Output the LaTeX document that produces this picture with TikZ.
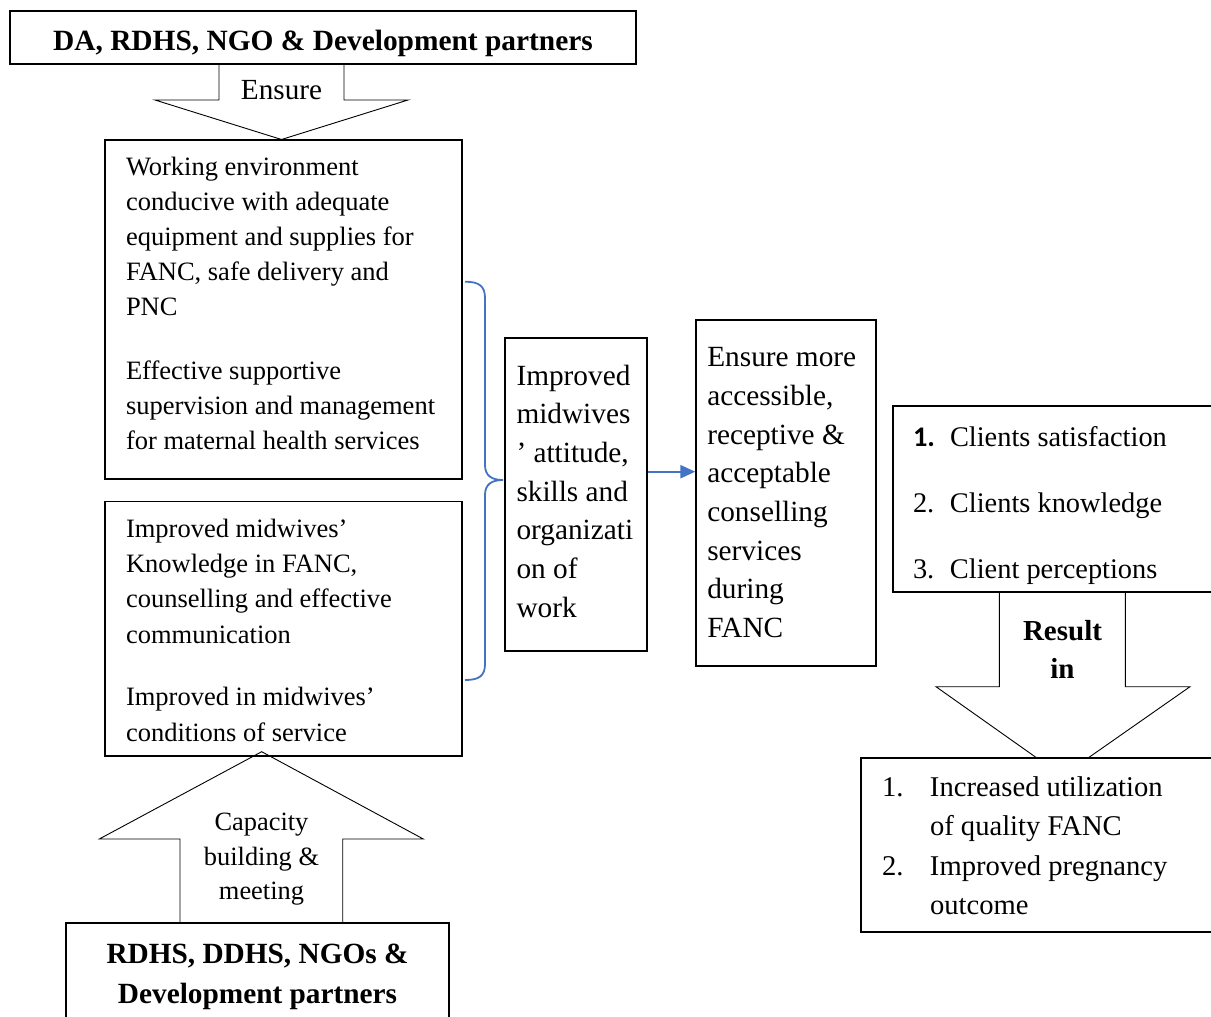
\documentclass[tikz,border=0pt]{standalone}
\usepackage{fontspec}
\setmainfont{Liberation Serif}
\newfontfamily\calfont{Carlito}
\usetikzlibrary{arrows.meta}
\definecolor{bluebrace}{RGB}{68,114,196}
\newcommand{\fsA}{\fontsize{26.5}{35.2}\selectfont}
\newcommand{\fsC}{\fontsize{29.3}{38.7}\selectfont}
\tikzset{
  box/.style={draw=black, line width=1.8pt, inner sep=0pt, fill=none},
  boxw/.style={draw=black, line width=1.8pt, inner sep=0pt, fill=white},
  blockarrow/.style={draw=black, line width=0.9pt, fill=white, line join=miter},
  txt/.style={inner sep=0pt, outer sep=0pt},
  bluebr/.style={draw=bluebrace, line width=1.8pt},
  bluearr/.style={draw=bluebrace, line width=2.2pt, -{Triangle[length=15pt,width=13pt]}}
}
\begin{document}
\begin{tikzpicture}[x=1pt,y=-1pt]
\useasboundingbox (0,0) rectangle (1211,1017);
\clip (0,0) rectangle (1211,1017);

% block arrows (drawn first)
\draw[blockarrow] (219,64) -- (219,100) -- (155,100) -- (281.5,139.5) -- (408,100) -- (344,100) -- (344,64) -- cycle;
\draw[blockarrow] (999.3,592) -- (999.3,686.7) -- (936,686.7) -- (1062.3,776) -- (1190,686.7) -- (1125.3,686.7) -- (1125.3,592) -- cycle;
\draw[blockarrow] (180,923) -- (180,839) -- (99.3,839) -- (261.7,751.7) -- (423.3,839) -- (342.7,839) -- (342.7,923) -- cycle;

% boxes
\node[boxw, minimum width=626.5pt, minimum height=52.5pt] (top) at (323,37.5) {};
\node[box, minimum width=357pt, minimum height=339pt] (A) at (283.7,309.5) {};
\node[box, minimum width=357pt, minimum height=254.5pt] (B) at (283.7,628.7) {};
\node[box, minimum width=142pt, minimum height=313.5pt] (C) at (576,494.5) {};
\node[box, minimum width=179.5pt, minimum height=345.5pt] (D) at (786,493) {};
\node[boxw, minimum width=330pt, minimum height=186pt] (E) at (1058,499) {};
\node[boxw, minimum width=360pt, minimum height=173.5pt] (F) at (1041,845) {};
\node[boxw, minimum width=383pt, minimum height=120pt] (bot) at (257.5,983) {};

% texts
\node[txt, anchor=base, font=\fontsize{29.4}{36}\selectfont\bfseries] (toptxt) at (323,50) {DA, RDHS, NGO \& Development partners};
\node[txt, anchor=base, font=\fontsize{29.2}{36}\selectfont] (ensure) at (281.5,99.5) {Ensure};

\node[txt, anchor=base west, font=\fsA] (Atxt) at (126,175) {\begin{tabular}[t]{@{}l@{}}
Working environment\\
conducive with adequate\\
equipment and supplies for\\
FANC, safe delivery and\\
PNC\\[28.5pt]
Effective supportive\\
supervision and management\\
for maternal health services
\end{tabular}};

\node[txt, anchor=base west, font=\fsA] (Btxt) at (126,537.5) {\begin{tabular}[t]{@{}l@{}}
Improved midwives’\\
Knowledge in FANC,\\
counselling and effective\\
communication\\[27.5pt]
Improved in midwives’\\
conditions of service
\end{tabular}};

\node[txt, anchor=base west, font=\fsC] (Ctxt) at (516.5,385) {\begin{tabular}[t]{@{}l@{}}
Improved\\
midwives\\
’ attitude,\\
skills and\\
organizati\\
on of\\
work
\end{tabular}};

\node[txt, anchor=base west, font=\fsC] (Dtxt) at (707.3,366.7) {\begin{tabular}[t]{@{}l@{}}
Ensure more\\
accessible,\\
receptive \&\\
acceptable\\
conselling\\
services\\
during\\
FANC
\end{tabular}};

\node[txt, anchor=base west, font=\fontsize{28.4}{66}\selectfont] (Etxt) at (913,446) {\begin{tabular}[t]{@{}l@{}}
\makebox[37pt][l]{\calfont\bfseries 1.}Clients satisfaction\\
\makebox[37pt][l]{2.}Clients knowledge\\
\makebox[37pt][l]{3.}Client perceptions
\end{tabular}};

\node[txt, anchor=base, font=\fontsize{29}{38}\selectfont\bfseries] (result) at (1062.5,640) {\begin{tabular}[t]{@{}c@{}}
Result\\
in
\end{tabular}};

\node[txt, anchor=base west, font=\fontsize{28.6}{39.5}\selectfont] (Ftxt) at (882,796) {\begin{tabular}[t]{@{}l@{}}
\makebox[48pt][l]{1.}Increased utilization\\
\hspace*{48pt}of quality FANC\\
\makebox[48pt][l]{2.}Improved pregnancy\\
\hspace*{48pt}outcome
\end{tabular}};

\node[txt, anchor=base, font=\fontsize{26.4}{34.6}\selectfont] (cap) at (261.5,830.5) {\begin{tabular}[t]{@{}c@{}}
Capacity\\
building \&\\
meeting
\end{tabular}};

\node[txt, anchor=base, font=\fontsize{29.3}{39.5}\selectfont\bfseries] (bottxt) at (257.5,963.5) {\begin{tabular}[t]{@{}c@{}}
RDHS, DDHS, NGOs \&\\
Development partners
\end{tabular}};

% brace
\coordinate (brtop) at (465,281.7);
\coordinate (brmid) at (503,480);
\coordinate (brbot) at (465,680);
\draw[bluebr] (brtop) .. controls (479,281.7) and (485,286) .. (485,298) -- (485,465)
  .. controls (485,476) and (492,480) .. (brmid)
  .. controls (492,480) and (485,484) .. (485,495) -- (485,664)
  .. controls (485,676) and (479,680) .. (brbot);

% blue arrow
\draw[bluearr] (C.east |- 0,471.7) -- (D.west |- 0,471.7);
\end{tikzpicture}
\end{document}
